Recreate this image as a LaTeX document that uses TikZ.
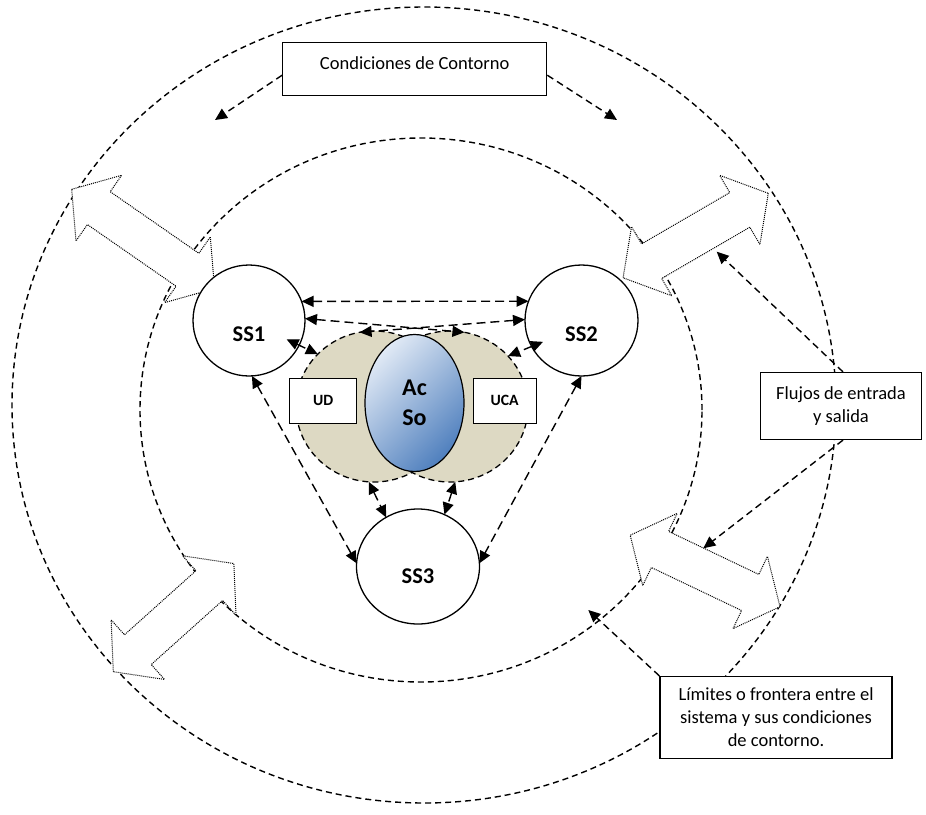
\documentclass[tikz,border=0pt]{standalone}
\usepackage{fontspec}
\setmainfont{Carlito}
\usetikzlibrary{arrows.meta,shapes.geometric}

\definecolor{zonetan}{RGB}{221,217,195}
\definecolor{acsolight}{RGB}{224,233,245}
\definecolor{acsodark}{RGB}{80,128,190}

\tikzset{
  bound/.style={dash pattern=on 6pt off 4pt, line width=1.4pt},
  link/.style={dash pattern=on 9pt off 5pt, line width=1.4pt,
    {Triangle[length=12pt,width=11pt]}-{Triangle[length=12pt,width=11pt]}},
  pointer/.style={dash pattern=on 7pt off 4.5pt, line width=1.4pt,
    -{Triangle[length=12pt,width=11pt]}},
  flow/.style={dash pattern=on 1pt off 1pt, line width=1pt, fill=white},
  zone/.style={ellipse, draw, dash pattern=on 6pt off 4pt, line width=1.3pt,
    fill=zonetan, minimum width=156pt, minimum height=151pt, inner sep=0pt, outer sep=0pt},
  ss/.style={ellipse, draw, line width=1.3pt, fill=white, minimum width=112pt,
    minimum height=111pt, inner sep=0pt, outer sep=0pt},
  sstext/.style={font=\fontsize{22.5}{27}\selectfont\bfseries},
  unit/.style={draw, line width=1.2pt, fill=white, minimum height=45pt, inner sep=0pt,
    font=\fontsize{15.7}{19}\selectfont\bfseries},
  note/.style={draw, line width=1.2pt, fill=white, inner sep=4pt, align=center,
    font=\fontsize{18.5}{23}\selectfont}
}

\begin{document}
\begin{tikzpicture}[x=1pt,y=1pt]

\useasboundingbox (0,0) rectangle (926,-814);

\draw[bound] (424,-405) ellipse [x radius=412, y radius=398];
\draw[bound] (421,-410) ellipse [x radius=281, y radius=272];

\foreach \x/\y/\a/\l in {71.7/-189.3/-34.8/174, 768.3/-193.3/-149.8/168, 113.3/-671.7/41.9/162, 780/-606.7/154.5/166}
  \draw[flow, shift={(\x,\y)}, rotate=\a] (0,0) -- (33,40) -- (33,20) -- (\l-33,20) -- (\l-33,40) -- (\l,0)
    -- (\l-33,-40) -- (\l-33,-20) -- (33,-20) -- (33,-40) -- cycle;

\node[zone] (udzone) at (374,-406.5) {};
\node[zone] (ucazone) at (450,-406.5) {};

\node[ellipse, draw, line width=1.2pt, minimum width=99pt, minimum height=137pt, inner sep=0pt,
  top color=acsolight, bottom color=acsodark, shading angle=45, align=center,
  font=\fontsize{24}{29.5}\selectfont\bfseries] (acso) at (414.5,-403) {Ac\\So};

\node[unit, minimum width=67pt] (ud) at (323.3,-400.8) {UD};
\node[unit, minimum width=63pt] (uca) at (504.7,-400.8) {UCA};

\node[ss] (ss1) at (249,-320.5) {};
\node[ss, minimum width=113pt] (ss2) at (581.5,-320.5) {};
\node[ss, minimum width=123pt, minimum height=115pt] (ss3) at (418,-566.5) {};
\node[sstext] (ss1t) at ([yshift=-14pt]ss1.center) {SS1};
\node[sstext] (ss2t) at ([yshift=-14pt]ss2.center) {SS2};
\node[sstext] (ss3t) at ([yshift=-10pt]ss3.center) {SS3};

\draw[link] (ss1.20) -- (ss2.160);
\draw[link] (ss1.2) -- (ucazone.79);
\draw[link] (ss2.179) -- (udzone.101);
\draw[link] ([shift={(-26.5:42)}]ss1.center) -- (udzone.137);
\draw[link] ([shift={(-151:44)}]ss2.center) -- (ucazone.41);
\draw[link] (udzone.-94) -- (ss3.123);
\draw[link] (ucazone.-86) -- (ss3.63);
\draw[link] (ss1.-87) -- (ss3.177);
\draw[link] (ss2.-90) -- (ss3.3);

\node[note, minimum width=264pt, minimum height=53pt, text depth=12pt] (cond) at (414.7,-69.2) {Condiciones de Contorno};
\node[note, minimum width=161pt, minimum height=67pt] (flujos) at (841,-406) {Flujos de entrada\\y salida};
\node[note, minimum width=232pt, minimum height=82pt] (limites) at (776,-717.5) {Límites o frontera entre el\\sistema y sus condiciones\\de contorno.};

\coordinate (condl) at (215,-120);
\coordinate (condr) at (617,-120);
\coordinate (fin) at (716.7,-251.7);
\coordinate (fout) at (703.3,-548.3);
\coordinate (lim) at (588.3,-610);

\draw[pointer] ([yshift=-6pt]cond.west) -- (condl);
\draw[pointer] ([yshift=-6pt]cond.east) -- (condr);
\draw[pointer] ([xshift=2pt]flujos.north) -- (fin);
\draw[pointer] ([xshift=2pt]flujos.south) -- (fout);
\draw[pointer] (limites.north west) -- (lim);

\end{tikzpicture}
\end{document}
